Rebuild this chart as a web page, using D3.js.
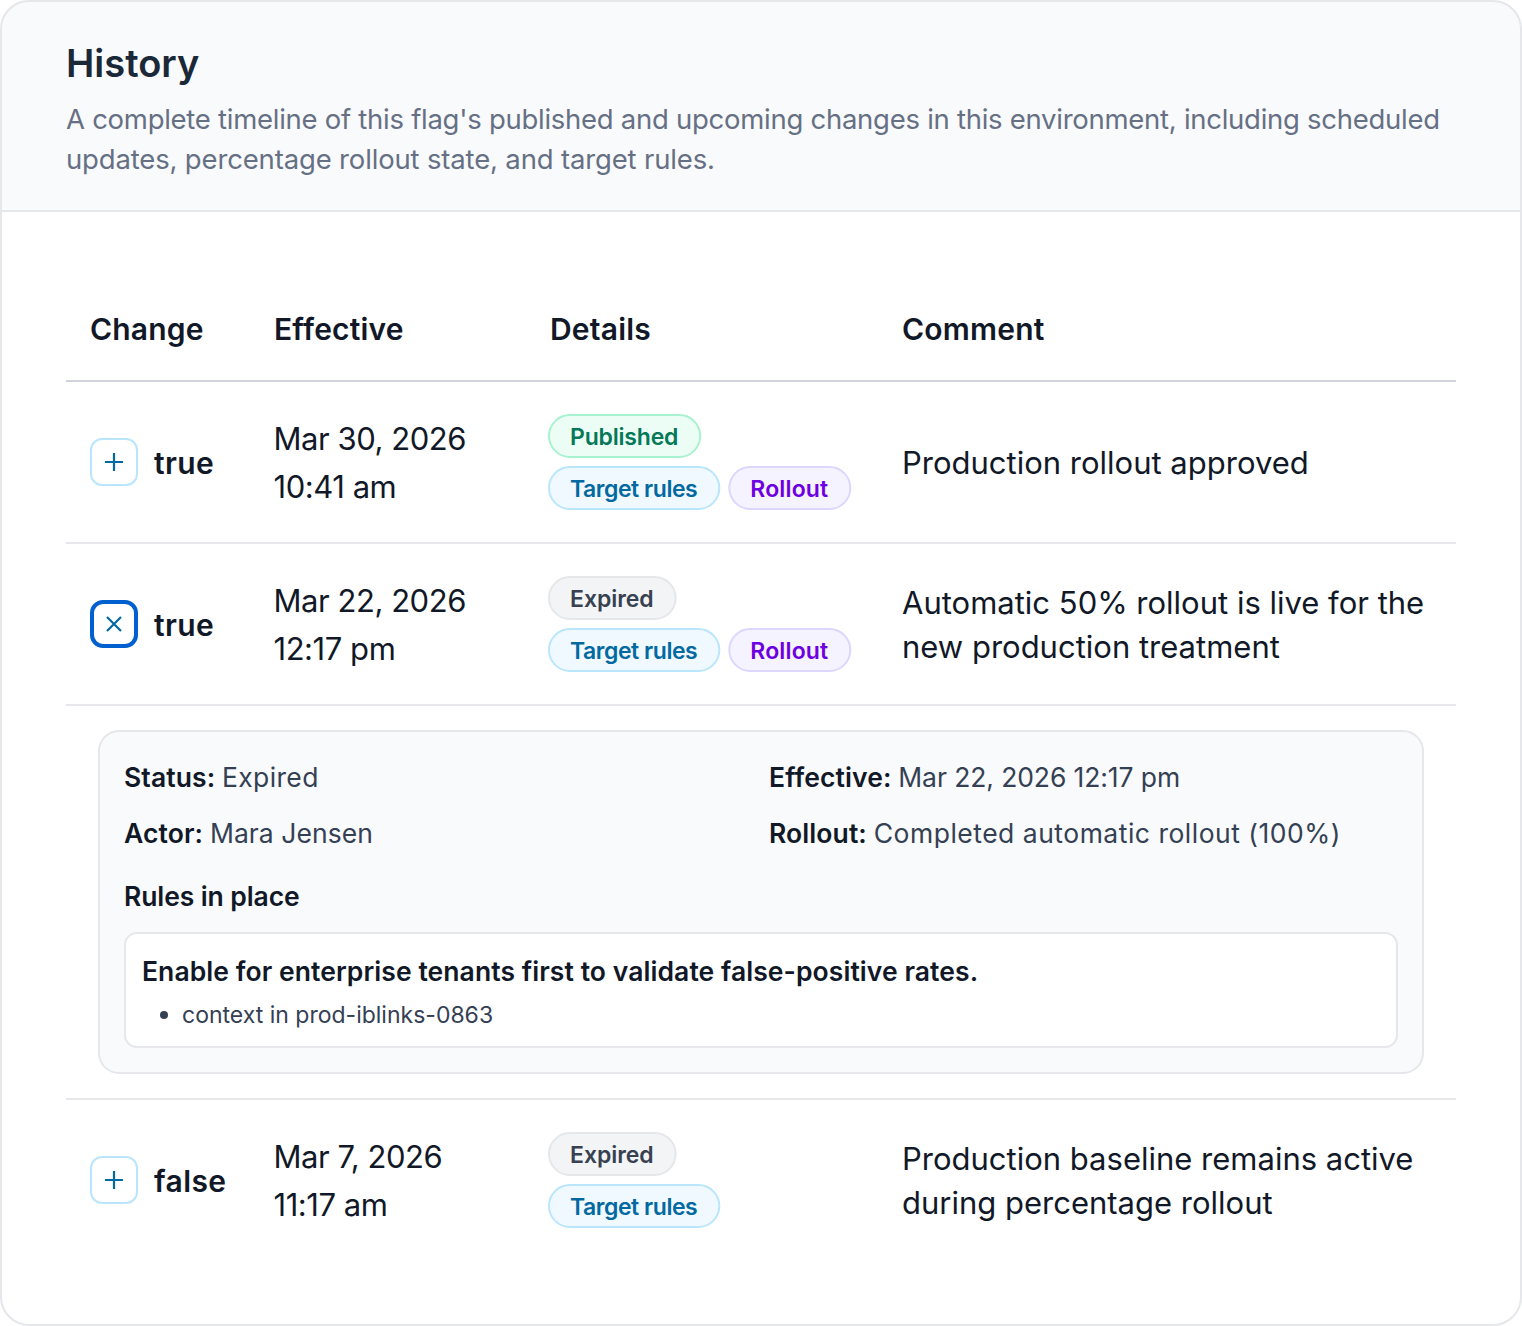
<!DOCTYPE html>
<html>
<head>
<meta charset="utf-8">
<style>
  html, body { margin: 0; padding: 0; background: #fff; }
  svg { display: block; }
  text { font-family: "Inter", sans-serif; }
</style>
<script src="https://d3js.org/d3.v7.min.js"></script>
</head>
<body>
<div id="my_dataviz"></div>
<script>

// table content
var columns = ["Change", "Effective", "Details", "Comment"];
var changes = ["true", "true", "false"];
var dates = ["Mar 30, 2026", "Mar 22, 2026", "Mar 7, 2026"];
var times = ["10:41 am", "12:17 pm", "11:17 am"];
var statuses = ["Published", "Expired", "Expired"];
var tags = [["Target rules", "Rollout"], ["Target rules", "Rollout"], ["Target rules"]];
var comments = [
  ["Production rollout approved"],
  ["Automatic 50% rollout is live for the", "new production treatment"],
  ["Production baseline remains active", "during percentage rollout"]
];
var expanded = [false, true, false];
var subtitle = [
  "A complete timeline of this flag's published and upcoming changes in this environment, including scheduled",
  "updates, percentage rollout state, and target rules."
];
var detailLeft = [["Status:", "Expired"], ["Actor:", "Mara Jensen"]];
var detailRight = [["Effective:", "Mar 22, 2026 12:17 pm"], ["Rollout:", "Completed automatic rollout (100%)"]];
var ruleTitle = "Enable for enterprise tenants first to validate false-positive rates.";
var ruleItem = "context in prod-iblinks-0863";

// colours of the pills
var pillStyle = {
  "Published":    {fill: "#ecfdf5", stroke: "#a7f3d0", text: "#047857", spacing: -0.2},
  "Expired":      {fill: "#f3f4f6", stroke: "#e5e7eb", text: "#374151", spacing: -0.05},
  "Target rules": {fill: "#f0f9ff", stroke: "#bae6fd", text: "#0369a1", spacing: -0.45},
  "Rollout":      {fill: "#f5f3ff", stroke: "#ddd6fe", text: "#6d00e0", spacing: 0.15}
};

var width = 1522, height = 1326;

var svg = d3.select("#my_dataviz").append("svg")
  .attr("width", width)
  .attr("height", height);

// column and row positions
var x = d3.scaleOrdinal().domain(columns).range([90, 274, 550, 902]);
var rowTop = d3.scaleOrdinal().domain([0, 1, 2]).range([381, 543, 1099]);

// card
svg.append("clipPath").attr("id", "card")
  .append("rect").attr("x", 1).attr("y", 1).attr("width", 1520).attr("height", 1324).attr("rx", 28);
svg.append("rect")
  .attr("x", 0).attr("y", 0).attr("width", width).attr("height", 211)
  .attr("fill", "#f9fafb").attr("clip-path", "url(#card)");
svg.append("line")
  .attr("x1", 1).attr("x2", 1521).attr("y1", 211).attr("y2", 211)
  .attr("stroke", "#e5e7eb").attr("stroke-width", 2);
svg.append("rect")
  .attr("x", 1).attr("y", 1).attr("width", 1520).attr("height", 1324).attr("rx", 28)
  .attr("fill", "none").attr("stroke", "#e5e7eb").attr("stroke-width", 2);

function label(g, str, px, py, size, weight, color, spacing) {
  return g.append("text")
    .attr("x", px).attr("y", py)
    .attr("font-size", size).attr("font-weight", weight)
    .attr("fill", color)
    .attr("letter-spacing", spacing || 0)
    .text(str);
}

// header
label(svg, "History", 66, 76.5, 38, 600, "#1b2838", 0);
subtitle.forEach(function(s, i) {
  label(svg, s, 66, 129 + i * 40, 27.5, 400, "#667085", i ? -0.16 : -0.27);
});

// column titles
columns.forEach(function(c) {
  label(svg, c, x(c), 339.5, 30, 600, "#111827", 0.2);
});
svg.append("line")
  .attr("x1", 66).attr("x2", 1456).attr("y1", 381).attr("y2", 381)
  .attr("stroke", "#d1d5db").attr("stroke-width", 2);

// one group per row
var rows = svg.selectAll("g.row")
  .data(d3.range(changes.length))
  .enter().append("g")
    .attr("class", "row")
    .attr("transform", function(d) { return "translate(0," + rowTop(d) + ")"; });

rows.each(function(d) {
  var g = d3.select(this);

  // expand / collapse button
  var open = expanded[d];
  var btn = g.append("g").attr("transform", "translate(114,81)");
  btn.append("rect")
    .attr("x", open ? -22 : -23).attr("y", open ? -22 : -23)
    .attr("width", open ? 44 : 46).attr("height", open ? 44 : 46)
    .attr("rx", 11)
    .attr("fill", "#fff")
    .attr("stroke", open ? "#0060d0" : "#bae6fd")
    .attr("stroke-width", open ? 4 : 2);
  btn.append("path")
    .attr("d", open ? "M-7,-7L7,7M7,-7L-7,7" : "M-9,0H9M0,-9V9")
    .attr("stroke", "#0369a1").attr("stroke-width", 2.2).attr("fill", "none");

  label(g, changes[d], 154, 92.5, 30, 600, "#111827", 0.4);

  // effective
  label(g, dates[d], x("Effective") - 0.5, 68.5, 31, 400, "#111827", -0.45);
  label(g, times[d], x("Effective") - 0.5, 116.5, 31, 400, "#111827", -0.45);

  // pills
  var rowsOfPills = [[statuses[d]], tags[d]];
  rowsOfPills.forEach(function(list, r) {
    var px = 549;
    list.forEach(function(name) {
      var st = pillStyle[name];
      var pill = g.append("g").attr("transform", "translate(" + px + "," + (34 + r * 52) + ")");
      var rect = pill.append("rect").attr("height", 42).attr("rx", 21)
        .attr("fill", st.fill).attr("stroke", st.stroke).attr("stroke-width", 2);
      var t = label(pill, name, 21, 29.5, 23, 600, st.text, st.spacing);
      var w = t.node().getComputedTextLength() + 43;
      rect.attr("width", w);
      px += w + 10;
    });
  });

  // comment
  var lines = comments[d];
  lines.forEach(function(s, i) {
    var py = lines.length === 1 ? 92.5 : 70.5 + i * 44;
    label(g, s, x("Comment"), py, 31, 400, "#111827", 0);
  });

  // bottom rule
  if (d < changes.length - 1) {
    g.append("line")
      .attr("x1", 66).attr("x2", 1456).attr("y1", 162).attr("y2", 162)
      .attr("stroke", "#e5e7eb").attr("stroke-width", 2);
  }
});

// expanded panel under the second row
var panel = svg.append("g");
panel.append("rect")
  .attr("x", 99).attr("y", 731).attr("width", 1324).attr("height", 342).attr("rx", 20)
  .attr("fill", "#f9fafb").attr("stroke", "#e5e7eb").attr("stroke-width", 2);
svg.append("line")
  .attr("x1", 66).attr("x2", 1456).attr("y1", 1099).attr("y2", 1099)
  .attr("stroke", "#e5e7eb").attr("stroke-width", 2);

function field(pair, px, py, valueSpacing) {
  var t = panel.append("text").attr("x", px).attr("y", py).attr("font-size", 26.5);
  t.append("tspan").attr("font-weight", 600).attr("fill", "#111827").attr("letter-spacing", 0.1).text(pair[0] + " ");
  t.append("tspan").attr("font-weight", 400).attr("fill", "#344054").attr("letter-spacing", valueSpacing).text(pair[1]);
}
detailLeft.forEach(function(p, i) { field(p, 124, 786.5 + i * 56, i ? 0.05 : 0.35); });
detailRight.forEach(function(p, i) { field(p, 769, 786.5 + i * 56, i ? 0.5 : -0.1); });

label(panel, "Rules in place", 124, 906, 26.5, 600, "#111827", -0.1);

panel.append("rect")
  .attr("x", 125).attr("y", 933).attr("width", 1272).attr("height", 114).attr("rx", 12)
  .attr("fill", "#fff").attr("stroke", "#e5e7eb").attr("stroke-width", 2);
label(panel, ruleTitle, 142, 980.5, 26.5, 600, "#111827", 0.07);
panel.append("circle").attr("cx", 164).attr("cy", 1015).attr("r", 4).attr("fill", "#344054");
label(panel, ruleItem, 182, 1022.5, 23, 400, "#344054", 0);

</script>
</body>
</html>
